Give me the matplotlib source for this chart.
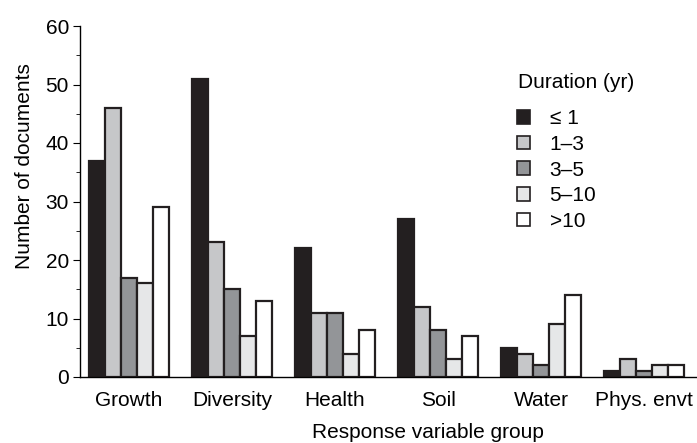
import numpy as np
import matplotlib.pyplot as plt
from matplotlib.patches import Patch

plt.rcParams['font.family'] = ['Liberation Sans', 'DejaVu Sans']

groups = ['Growth', 'Diversity', 'Health', 'Soil', 'Water', 'Phys. envt']
durations = ['\u2264 1', '1\u20133', '3\u20135', '5\u201310', '>10']
counts = {
    '\u2264 1': [37, 51, 22, 27, 5, 1],
    '1\u20133': [46, 23, 11, 12, 4, 3],
    '3\u20135': [17, 15, 11, 8, 2, 1],
    '5\u201310': [16, 7, 4, 3, 9, 2],
    '>10': [29, 13, 8, 7, 14, 2],
}
colors = ['#231f20', '#c6c7c9', '#939598', '#e6e7e8', '#ffffff']

W, H = 697, 443
fig = plt.figure(figsize=(W / 100, H / 100), dpi=100)
ax = fig.add_axes([80 / W, 1 - 377 / H, 617 / W, 351 / H])

x = np.arange(len(groups))
w = 0.155
for i, d in enumerate(durations):
    ax.bar(x + (i - 2) * w, counts[d], width=w, color=colors[i],
           edgecolor='#231f20', linewidth=1.6, label=d)

ax.set_xlim(-0.476, 5.515)
ax.set_ylim(0, 60)
ax.set_yticks(np.arange(0, 61, 10))
ax.set_yticks(np.arange(5, 60, 10), minor=True)
ax.set_xticks(x)
ax.set_xticklabels(groups, fontsize=15)
ax.tick_params(axis='x', length=0, pad=10)
ax.tick_params(axis='y', which='major', length=5, labelsize=15, pad=3)
ax.tick_params(axis='y', which='minor', length=3)
for s in ['top', 'right']:
    ax.spines[s].set_visible(False)
ax.spines['left'].set_linewidth(1.0)
ax.spines['bottom'].set_linewidth(1.0)

ax.set_ylabel('Number of documents', fontsize=15)
ax.yaxis.set_label_coords(-0.074, 0.60)
fig.text(428 / W, 1 - 433 / H, 'Response variable group', fontsize=15,
         ha='center', va='center')

# legend: title placed separately so the gap below it can be set
fig.text(518 / W, 1 - 82 / H, 'Duration (yr)', fontsize=15,
         ha='left', va='center')
handles = [Patch(facecolor=c, edgecolor='#231f20', linewidth=1.2) for c in colors]
leg = ax.legend(handles, durations, frameon=False,
                loc='upper left', bbox_to_anchor=(0.708, 0.763), fontsize=15,
                handlelength=0.62, handleheight=0.62, borderpad=0,
                handletextpad=0.95, labelspacing=0.32, borderaxespad=0)

fig.savefig('out.png', dpi=100)
